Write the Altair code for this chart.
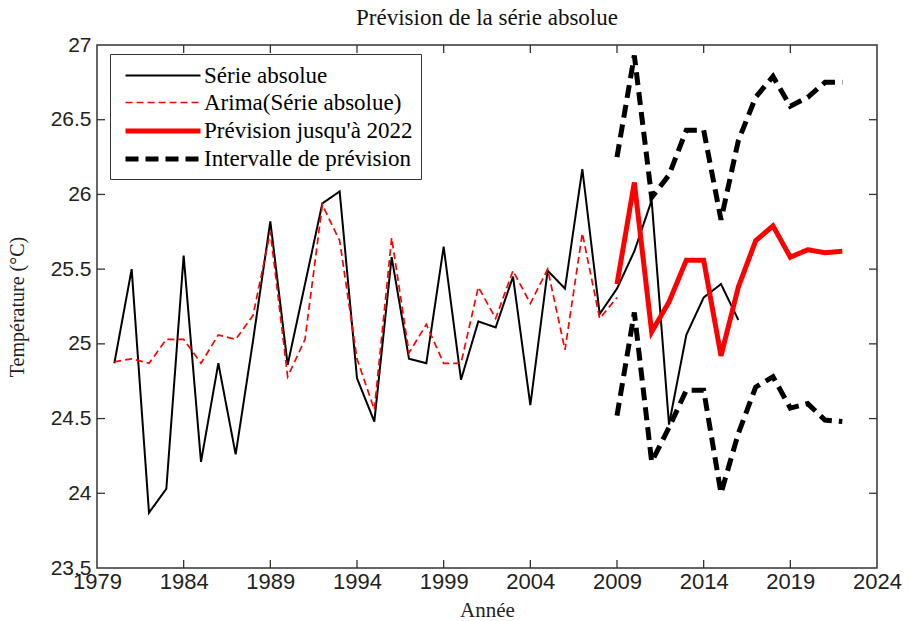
import altair as alt
import pandas as pd

# ---- data -------------------------------------------------------------
years_obs = list(range(1980, 2017))
serie_absolue = [24.87, 25.50, 23.87, 24.03, 25.59, 24.21, 24.87, 24.26, 25.02, 25.82,
                 24.86, 25.40, 25.94, 26.02, 24.77, 24.48, 25.58, 24.90, 24.87, 25.65,
                 24.76, 25.15, 25.11, 25.45, 24.59, 25.49, 25.37, 26.17, 25.20, 25.37,
                 25.62, 25.96, 24.46, 25.06, 25.31, 25.40, 25.16]

years_arima = list(range(1980, 2010))
arima = [24.88, 24.90, 24.87, 25.03, 25.03, 24.87, 25.06, 25.03, 25.19, 25.75,
         24.78, 25.03, 25.93, 25.69, 24.90, 24.56, 25.71, 24.94, 25.13, 24.87,
         24.87, 25.38, 25.17, 25.49, 25.27, 25.50, 24.96, 25.74, 25.17, 25.31]

years_prev = list(range(2009, 2023))
prevision = [25.40, 26.08, 25.08, 25.28, 25.56, 25.56, 24.92, 25.38, 25.69, 25.79,
             25.58, 25.63, 25.61, 25.62]
borne_sup = [26.25, 26.93, 25.98, 26.13, 26.43, 26.43, 25.83, 26.36, 26.65, 26.79,
             26.59, 26.65, 26.75, 26.75]
borne_inf = [24.52, 25.21, 24.21, 24.44, 24.69, 24.69, 24.00, 24.40, 24.71, 24.78,
             24.57, 24.60, 24.49, 24.48]

series_names = ["Série absolue", "Arima(Série absolue)",
                "Prévision jusqu'à 2022", "Intervalle de prévision"]

x_tick_values = [1979, 1984, 1989, 1994, 1999, 2004, 2009, 2014, 2019, 2024]
y_tick_values = [23.5, 24, 24.5, 25, 25.5, 26, 26.5, 27]

# ---- long table: one row per point, "trace" separates the two bounds ----
rows = []
for yr, v in zip(years_obs, serie_absolue):
    rows.append({"annee": yr, "temp": v, "serie": series_names[0], "trace": "obs"})
for yr, v in zip(years_arima, arima):
    rows.append({"annee": yr, "temp": v, "serie": series_names[1], "trace": "arima"})
for yr, v in zip(years_prev, prevision):
    rows.append({"annee": yr, "temp": v, "serie": series_names[2], "trace": "prev"})
for yr, v in zip(years_prev, borne_sup):
    rows.append({"annee": yr, "temp": v, "serie": series_names[3], "trace": "sup"})
for yr, v in zip(years_prev, borne_inf):
    rows.append({"annee": yr, "temp": v, "serie": series_names[3], "trace": "inf"})
df = pd.DataFrame(rows)

W, H = 780, 523
TICK = 8
AXIS_GREY = "#333333"

x_scale = alt.Scale(domain=[1979, 2024], nice=False, zero=False)
y_scale = alt.Scale(domain=[23.5, 27], nice=False, zero=False)

x_axis = alt.Axis(values=x_tick_values, format="d", title="Année",
                  domain=False, ticks=False, grid=False, labelOverlap=False,
                  labelFlush=False, labelFont="Liberation Sans", labelFontSize=22,
                  labelColor="#222222", labelPadding=3,
                  titleFont="Liberation Serif", titleFontSize=21,
                  titleFontWeight="normal", titleColor="#222222", titlePadding=7)
y_axis = alt.Axis(values=y_tick_values, format="~g", title="Température (°C)",
                  domain=False, ticks=False, grid=False, labelOverlap=False,
                  labelFont="Liberation Sans", labelFontSize=21,
                  labelColor="#222222", labelPadding=6,
                  titleFont="Liberation Serif", titleFontSize=20,
                  titleFontWeight="normal", titleColor="#222222",
                  titleX=-70, titleY=H / 2)

x_enc = alt.X("annee:Q", scale=x_scale, axis=x_axis)
y_enc = alt.Y("temp:Q", scale=y_scale, axis=y_axis)

legend = alt.Legend(title=None, orient="none", legendX=13, legendY=9,
                    symbolType="M-0.6,0H5.4", symbolSize=625,
                    labelOffset=56, padding=8, rowPadding=1,
                    strokeColor=AXIS_GREY, fillColor="white",
                    labelFont="Liberation Serif", labelFontSize=23,
                    labelColor="black", labelLimit=400)

lines = alt.Chart(df).mark_line().encode(
    x=x_enc,
    y=y_enc,
    color=alt.Color("serie:N", legend=legend,
                    scale=alt.Scale(domain=series_names,
                                    range=["black", "red", "red", "black"])),
    strokeDash=alt.StrokeDash("serie:N", legend=legend,
                              scale=alt.Scale(domain=series_names,
                                              range=[[1, 0], [7, 4], [1, 0], [13, 7]])),
    strokeWidth=alt.StrokeWidth("serie:N", legend=legend,
                                scale=alt.Scale(type="ordinal", domain=series_names,
                                                range=[2.0, 1.7, 5, 5])),
    detail="trace:N",
)

# inward tick marks on all four sides of the frame
xt = pd.DataFrame({"annee": x_tick_values[1:-1]})
yt = pd.DataFrame({"temp": y_tick_values[1:-1]})
tick_style = dict(color=AXIS_GREY, strokeWidth=1.3)

bottom_ticks = alt.Chart(xt).mark_rule(**tick_style).encode(
    x=x_enc, y=alt.value(H), y2=alt.value(H - TICK))
top_ticks = alt.Chart(xt).mark_rule(**tick_style).encode(
    x=x_enc, y=alt.value(0), y2=alt.value(TICK))
left_ticks = alt.Chart(yt).mark_rule(**tick_style).encode(
    y=y_enc, x=alt.value(0), x2=alt.value(TICK))
right_ticks = alt.Chart(yt).mark_rule(**tick_style).encode(
    y=y_enc, x=alt.value(W), x2=alt.value(W - TICK))

chart = alt.layer(lines, bottom_ticks, top_ticks, left_ticks, right_ticks).properties(
    width=W,
    height=H,
    padding={"left": 97, "top": 45, "right": 32, "bottom": 53},
    autosize=alt.AutoSizeParams(type="none"),
    title=alt.TitleParams("Prévision de la série absolue", font="Liberation Serif",
                          fontSize=23, fontWeight="normal", color="#111111",
                          offset=4, anchor="middle"),
).configure_view(stroke=AXIS_GREY, strokeWidth=1.5)

chart.save("out.html", embed_options={"renderer": "svg", "actions": False})
